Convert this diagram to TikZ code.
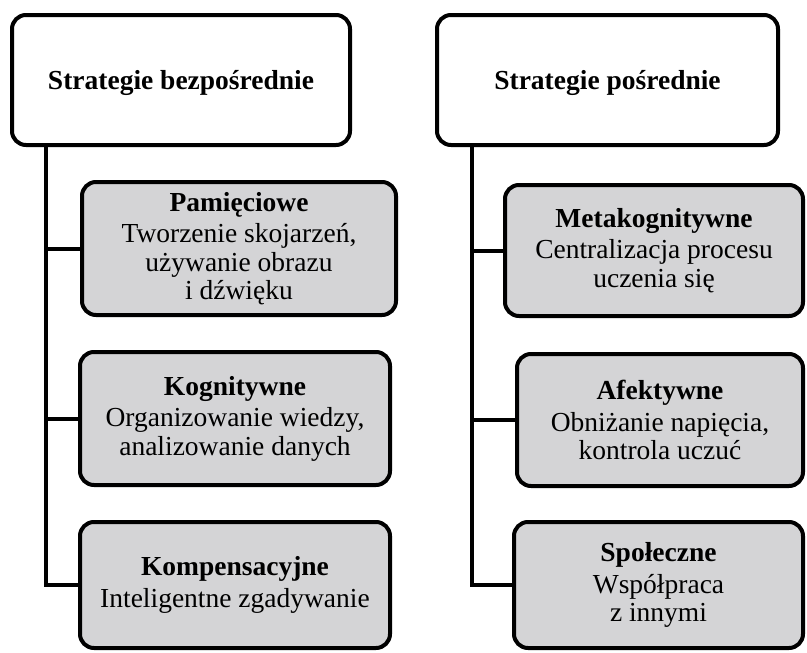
\documentclass[tikz,border=0pt]{standalone}
\usepackage{fontspec}
\setmainfont{Liberation Serif}
\begin{document}
\begin{tikzpicture}[x=1pt,y=-1pt,
  topbox/.style={draw=black,line width=4pt,rounded corners=14pt,fill=white,
    inner sep=0pt,align=center,font=\fontsize{27.5}{28}\selectfont\bfseries},
  subbox/.style={draw=black,line width=4pt,rounded corners=14pt,fill=boxgray,
    inner sep=0pt,align=center,font=\fontsize{27.5}{28.5}\selectfont},
  toptext/.style={font=\fontsize{27.5}{28}\selectfont\bfseries,inner sep=0pt},
  link/.style={draw=black,line width=4pt}]
\definecolor{boxgray}{RGB}{212,212,214}
\useasboundingbox (0,0) rectangle (807,653);
% top boxes
\node[topbox,minimum width=338pt,minimum height=130pt] (lt) at (181,80) {};
\node[toptext] (ltt) at (181,83) {Strategie bezpośrednie};
\node[topbox,minimum width=341pt,minimum height=130pt] (rt) at (607.5,80) {};
\node[toptext] (rtt) at (607.5,83) {Strategie pośrednie};
% left column
\node[subbox,minimum width=314pt,minimum height=133pt] (pam) at (239,248.5)
  {\textbf{Pamięciowe}\\[3pt]Tworzenie skojarzeń,\\używanie obrazu\\i dźwięku};
\node[subbox,minimum width=310pt,minimum height=133pt] (kog) at (235,418.5)
  {\textbf{Kognitywne}\\[3pt]Organizowanie wiedzy,\\analizowanie danych};
\node[subbox,minimum width=310pt,minimum height=126pt] (kom) at (235,585)
  {\textbf{Kompensacyjne}\\[3pt]Inteligentne zgadywanie};
% right column
\node[subbox,minimum width=298pt,minimum height=131pt] (met) at (654,250.5)
  {\textbf{Metakognitywne}\\[3pt]Centralizacja procesu\\uczenia się};
\node[subbox,minimum width=286pt,minimum height=132pt] (afe) at (660,420)
  {\textbf{Afektywne}\\[3pt]Obniżanie napięcia,\\kontrola uczuć};
\node[subbox,minimum width=289pt,minimum height=126pt] (spo) at (658.5,585)
  {\textbf{Społeczne}\\[3pt]Współpraca\\z innymi};
% trunks
\coordinate (L) at (46,0);
\coordinate (R) at (472,0);
\draw[link] (lt.south -| L) |- (kom.west);
\draw[link] (pam.west -| L) -- (pam.west);
\draw[link] (kog.west -| L) -- (kog.west);
\draw[link] (rt.south -| R) |- (spo.west);
\draw[link] (met.west -| R) -- (met.west);
\draw[link] (afe.west -| R) -- (afe.west);
\end{tikzpicture}
\end{document}
